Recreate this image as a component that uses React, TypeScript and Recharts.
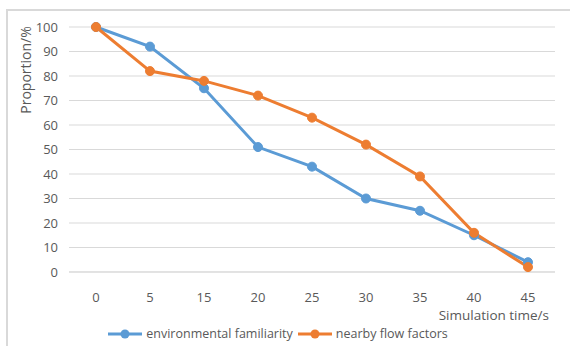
import { CartesianGrid, Legend, Line, LineChart, XAxis, YAxis } from 'recharts';

const times = ['0', '5', '15', '20', '25', '30', '35', '40', '45'];
const envFamiliarity = [100, 92, 75, 51, 43, 30, 25, 15, 4];
const nearbyFlow = [100, 82, 78, 72, 63, 52, 39, 16, 2];
const yTicks = [0, 10, 20, 30, 40, 50, 60, 70, 80, 90, 100];

const BLUE = '#5B9BD5';
const ORANGE = '#ED7D31';
const TEXT = '#595959';
const FONT = '"Open Sans", sans-serif';

const data = times.map((t, i) => ({ t, env: envFamiliarity[i], flow: nearbyFlow[i] }));

function LegendRow() {
  const items = [
    { name: 'environmental familiarity', color: BLUE },
    { name: 'nearby flow factors', color: ORANGE },
  ];
  return (
    <div style={{ display: 'flex', justifyContent: 'center', gap: 4, fontFamily: FONT, fontSize: 12.5, color: TEXT }}>
      {items.map((it) => (
        <div key={it.name} style={{ display: 'flex', alignItems: 'center' }}>
          <svg width={36} height={12} style={{ marginRight: 3 }}>
            <line x1={1} y1={6} x2={35} y2={6} stroke={it.color} strokeWidth={3} />
            <circle cx={18} cy={6} r={4.5} fill={it.color} />
          </svg>
          <span>{it.name}</span>
        </div>
      ))}
    </div>
  );
}

function YLabel() {
  return (
    <text
      x={25}
      y={70}
      transform="rotate(-90, 25, 70)"
      textAnchor="middle"
      dominantBaseline="central"
      fill={TEXT}
      fontSize={14}
      fontFamily={FONT}
    >
      Proportion/%
    </text>
  );
}

export default function App() {
  return (
    <div style={{ position: 'absolute', left: 0, top: 0, width: 570, height: 346, background: '#fff', overflow: 'hidden' }}>
      <div
        style={{
          position: 'absolute',
          left: 6,
          top: 9,
          width: 580,
          height: 360,
          borderLeft: '2px solid #D9D9D9',
          borderTop: '2px solid #D9D9D9',
        }}
      />
      <LineChart width={570} height={346} data={data} margin={{ top: 27, right: 15, bottom: 4, left: 0 }}>
        <CartesianGrid stroke="#D9D9D9" vertical={false} />
        <XAxis
          dataKey="t"
          padding={{ left: 27, right: 27 }}
          axisLine={{ stroke: '#D9D9D9' }}
          tickLine={false}
          tick={{ fill: TEXT, fontSize: 13, fontFamily: FONT }}
          tickMargin={15}
          height={50}
          label={{ value: 'Simulation time/s', position: 'insideBottomRight', offset: 2, dx: -4, fill: TEXT, fontSize: 13.5, fontFamily: FONT }}
        />
        <YAxis
          domain={[0, 100]}
          ticks={yTicks}
          interval={0}
          width={69}
          axisLine={false}
          tickLine={false}
          tick={{ fill: TEXT, fontSize: 13, fontFamily: FONT }}
          tickMargin={5}
          label={<YLabel />}
        />
        <Legend verticalAlign="bottom" height={20} wrapperStyle={{ top: 325 }} content={() => <LegendRow />} />
        <Line
          dataKey="env"
          stroke={BLUE}
          strokeWidth={3}
          dot={{ r: 4.5, fill: BLUE, stroke: BLUE, strokeWidth: 1 }}
          isAnimationActive={false}
        />
        <Line
          dataKey="flow"
          stroke={ORANGE}
          strokeWidth={3}
          dot={{ r: 4.5, fill: ORANGE, stroke: ORANGE, strokeWidth: 1 }}
          isAnimationActive={false}
        />
      </LineChart>
    </div>
  );
}
